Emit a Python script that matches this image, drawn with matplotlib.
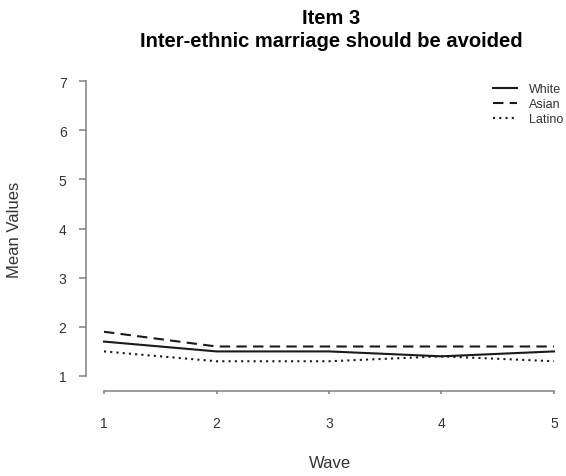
import matplotlib
matplotlib.use("Agg")
import matplotlib.pyplot as plt

waves = [1, 2, 3, 4, 5]
white = [1.7, 1.5, 1.5, 1.4, 1.5]
asian = [1.9, 1.6, 1.6, 1.6, 1.6]
latino = [1.5, 1.3, 1.3, 1.4, 1.3]
yticks = [1, 2, 3, 4, 5, 6, 7]

plt.rcParams['font.family'] = ['Liberation Sans', 'DejaVu Sans']

W, H = 566, 477
fig = plt.figure(figsize=(W / 100, H / 100), dpi=100)
# plot region in pixels: left 86, top 70.2, bottom 388.8
ax = fig.add_axes([86 / W, (H - 388.8) / H, 486 / W, 318.6 / H])

ax.plot(waves, white, color='#1a1a1a', lw=1.5, ls='-', label='White')
ax.plot(waves, asian, color='#1a1a1a', lw=1.5, ls=(0, (5, 3)), label='Asian')
ax.plot(waves, latino, color='#1a1a1a', lw=1.5, ls=(0, (1, 2)), label='Latino')

ax.set_xlim(0.84, 5.16)
ax.set_ylim(0.76, 7.24)
ax.set_xticks(waves)
ax.set_yticks(yticks)

for s in ['top', 'right']:
    ax.spines[s].set_visible(False)
ax.spines['left'].set_bounds(1, 7)
ax.spines['bottom'].set_bounds(1, 5)
ax.spines['bottom'].set_position(('outward', 2))
for s in ['left', 'bottom']:
    ax.spines[s].set_color('#808080')
    ax.spines[s].set_linewidth(1.1)
ax.tick_params(axis='y', length=5, width=1.1, color='#808080',
               labelsize=10, labelcolor='#333333', pad=9)
ax.tick_params(axis='x', length=2.5, width=1.1, color='#808080',
               labelsize=10, labelcolor='#333333', pad=15.5)

fig.text(330 / W, 1 - 468 / H, 'Wave', ha='center', va='baseline',
         fontsize=12, color='#333333')
fig.text(15 / W, 1 - 230 / H, 'Mean Values', ha='center', va='center',
         rotation=90, fontsize=12, color='#333333')

fig.text(331 / W, 1 - 24 / H, 'Item 3', ha='center', va='baseline',
         fontsize=14.5, fontweight='bold')
fig.text(331 / W, 1 - 47 / H, 'Inter-ethnic marriage should be avoided',
         ha='center', va='baseline', fontsize=14.5, fontweight='bold')

leg = ax.legend(loc='upper left', bbox_to_anchor=(493 / W, 1 - 84 / H),
                bbox_transform=fig.transFigure, frameon=False, fontsize=9,
                borderpad=0, borderaxespad=0,
                handlelength=1.9, handletextpad=1.0, labelspacing=0.25)
for t in leg.get_texts():
    t.set_color('#333333')

fig.savefig('out.png', dpi=100)
